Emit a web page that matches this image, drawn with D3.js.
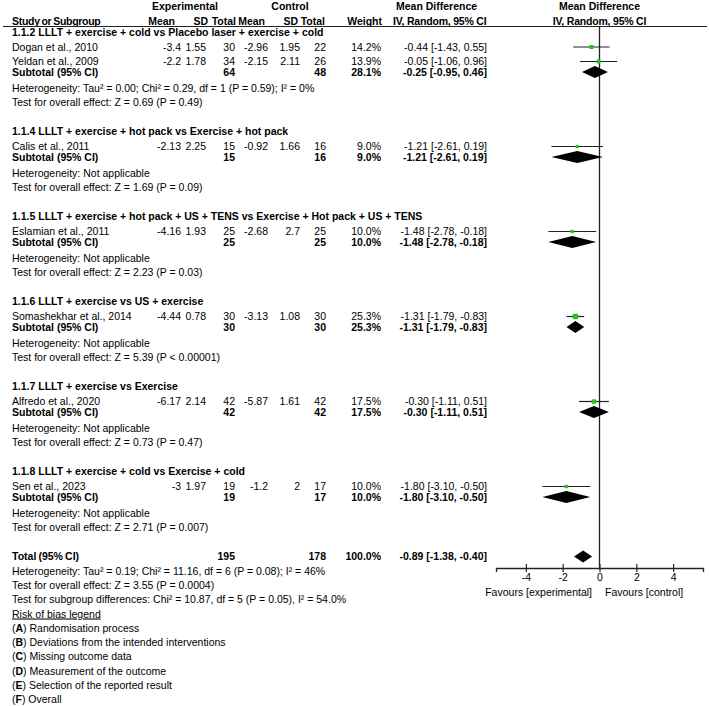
<!DOCTYPE html>
<html lang="en">
<head>
    <meta charset="UTF-8">
    <title>Forest plot - LLLT</title>
    <script src="https://cdn.jsdelivr.net/npm/d3@7/dist/d3.min.js"></script>
    <style>
        body { margin: 0; background: #fff; }
        svg { display: block; }
        text { font-family: "Liberation Sans", Arial, sans-serif; font-size: 10.5px; fill: #000; }
        .b { font-weight: bold; }
    </style>
</head>
<body>
<script>
    // chart size
    const width = 709;
    const height = 706;

    // subgroups
    const subgroups = [
        'LLLT + exercise + cold vs Placebo laser + exercise + cold',
        'LLLT + exercise + hot pack vs Exercise + hot pack',
        'LLLT + exercise + hot pack + US + TENS vs Exercise + Hot pack + US + TENS',
        'LLLT + exercise vs US + exercise',
        'LLLT + exercise vs Exercise',
        'LLLT + exercise + cold vs Exercise + cold'
    ];
    const subgroupIds = ['1.1.2', '1.1.4', '1.1.5', '1.1.6', '1.1.7', '1.1.8'];

    // studies
    const studies = ['Dogan et al., 2010', 'Yeldan et al., 2009', 'Calis et al., 2011', 'Eslamian  et al.,  2011',
        'Somashekhar et al., 2014', 'Alfredo et al., 2020', 'Sen et al., 2023'];
    const studyGroup = [0, 0, 1, 2, 3, 4, 5];
    const expMean = [-3.4, -2.2, -2.13, -4.16, -4.44, -6.17, -3];
    const expSD = [1.55, 1.78, 2.25, 1.93, 0.78, 2.14, 1.97];
    const expN = [30, 34, 15, 25, 30, 42, 19];
    const ctlMean = [-2.96, -2.15, -0.92, -2.68, -3.13, -5.87, -1.2];
    const ctlSD = [1.95, 2.11, 1.66, 2.7, 1.08, 1.61, 2];
    const ctlN = [22, 26, 16, 25, 30, 42, 17];
    const weight = [14.2, 13.9, 9.0, 10.0, 25.3, 17.5, 10.0];
    const md = [-0.44, -0.05, -1.21, -1.48, -1.31, -0.30, -1.80];
    const mdLo = [-1.43, -1.06, -2.61, -2.78, -1.79, -1.11, -3.10];
    const mdHi = [0.55, 0.96, 0.19, -0.18, -0.83, 0.51, -0.50];

    // subtotals
    const subExpN = [64, 15, 25, 30, 42, 19];
    const subCtlN = [48, 16, 25, 30, 42, 17];
    const subWeight = [28.1, 9.0, 10.0, 25.3, 17.5, 10.0];
    const subMd = [-0.25, -1.21, -1.48, -1.31, -0.30, -1.80];
    const subLo = [-0.95, -2.61, -2.78, -1.79, -1.11, -3.10];
    const subHi = [0.46, 0.19, -0.18, -0.83, 0.51, -0.50];
    const subHet = [
        'Heterogeneity: Tau² = 0.00; Chi² = 0.29, df = 1 (P = 0.59); I² = 0%',
        'Heterogeneity: Not applicable',
        'Heterogeneity: Not applicable',
        'Heterogeneity: Not applicable',
        'Heterogeneity: Not applicable',
        'Heterogeneity: Not applicable'
    ];
    const subTest = [
        'Test for overall effect: Z = 0.69 (P = 0.49)',
        'Test for overall effect: Z = 1.69 (P = 0.09)',
        'Test for overall effect: Z = 2.23 (P = 0.03)',
        'Test for overall effect: Z = 5.39 (P < 0.00001)',
        'Test for overall effect: Z = 0.73 (P = 0.47)',
        'Test for overall effect: Z = 2.71 (P = 0.007)'
    ];

    // overall
    const total = { expN: 195, ctlN: 178, weight: 100.0, md: -0.89, lo: -1.38, hi: -0.40 };
    const totalLines = [
        'Heterogeneity: Tau² = 0.19; Chi² = 11.16, df = 6 (P = 0.08); I² = 46%',
        'Test for overall effect: Z = 3.55 (P = 0.0004)',
        'Test for subgroup differences: Chi² = 10.87, df = 5 (P = 0.05), I² = 54.0%'
    ];
    const biasLetters = ['A', 'B', 'C', 'D', 'E', 'F'];
    const biasLabels = ['Randomisation  process', 'Deviations  from  the  intended  interventions', 'Missing  outcome  data',
        'Measurement  of  the  outcome', 'Selection  of  the  reported  result', 'Overall'];

    // axis
    const tickVals = [-4, -2, 0, 2, 4];
    const x = d3.scaleLinear().domain([-5.62, 5.62]).range([496, 703]);

    // column anchors (right aligned)
    const col = { name: 12, eMean: 181, eSD: 206, eN: 235, cMean: 268, cSD: 300, cN: 326, w: 381, md: 487 };

    let svg = d3.select('body')
        .append('svg')
        .attr('width', width)
        .attr('height', height);

    svg.append('rect').attr('width', width).attr('height', height).attr('fill', '#fff');

    // text helper, y is the text centre
    function txt (xx, yy, s, anchor, bold) {
        return svg.append('text')
            .attr('x', xx)
            .attr('y', yy + 3.8)
            .attr('text-anchor', anchor || 'start')
            .attr('class', bold ? 'b' : null)
            .text(s);
    }

    // header
    txt(185, 6, 'Experimental', 'middle', true);
    txt(290, 6, 'Control', 'middle', true);
    txt(396, 6, 'Mean Difference', 'start', true);
    txt(x(0), 6, 'Mean Difference', 'middle', true);
    txt(col.name, 21, 'Study or Subgroup', 'start', true).attr('letter-spacing', -0.3).attr('word-spacing', -0.8);
    txt(175, 21, 'Mean', 'end', true);
    txt(208, 21, 'SD', 'end', true);
    txt(236, 21, 'Total', 'end', true);
    txt(265, 21, 'Mean', 'end', true);
    txt(298, 21, 'SD', 'end', true);
    txt(325, 21, 'Total', 'end', true);
    txt(382, 21, 'Weight', 'end', true);
    txt(393, 21, 'IV, Random, 95% CI', 'start', true).attr('letter-spacing', -0.2);
    txt(x(0), 21, 'IV, Random, 95% CI', 'middle', true).attr('letter-spacing', -0.2);

    svg.append('line')
        .attr('x1', 3).attr('x2', 707)
        .attr('y1', 26.5).attr('y2', 26.5)
        .attr('stroke', '#222').attr('stroke-width', 1.2);

    // layout rows
    let y = 32;
    let studyY = [];
    let subY = [];
    subgroups.forEach((g, i) => {
        txt(col.name, y, subgroupIds[i] + ' ' + g, 'start', true);
        let yy = y + 15;
        studies.forEach((s, j) => {
            if (studyGroup[j] !== i) return;
            studyY[j] = yy;
            yy += 14.5;
        });
        yy -= 4;
        subY[i] = yy;
        txt(col.name, yy + 16, subHet[i]);
        txt(col.name, yy + 30, subTest[i]);
        y = yy + 59.5;
    });
    const totalY = y;

    // study rows
    const fmt2 = d3.format('.2f');
    function ciText (m, l, h) {
        return [m, l, h].map(v => fmt2(v).replace('−', '-')).reduce((a, b, k) => k === 1 ? a + ' [' + b : a + ', ' + b) + ']';
    }
    studies.forEach((s, j) => {
        const yy = studyY[j];
        txt(col.name, yy, s);
        txt(col.eMean, yy, String(expMean[j]), 'end');
        txt(col.eSD, yy, String(expSD[j]), 'end');
        txt(col.eN, yy, String(expN[j]), 'end');
        txt(col.cMean, yy, String(ctlMean[j]), 'end');
        txt(col.cSD, yy, String(ctlSD[j]), 'end');
        txt(col.cN, yy, String(ctlN[j]), 'end');
        txt(col.w, yy, weight[j].toFixed(1) + '%', 'end');
        txt(col.md, yy, ciText(md[j], mdLo[j], mdHi[j]), 'end');
    });

    // subtotal rows
    subgroups.forEach((g, i) => {
        const yy = subY[i];
        txt(col.name, yy, 'Subtotal (95% CI)', 'start', true);
        txt(col.eN, yy, String(subExpN[i]), 'end', true);
        txt(col.cN, yy, String(subCtlN[i]), 'end', true);
        txt(col.w, yy, subWeight[i].toFixed(1) + '%', 'end', true);
        txt(col.md, yy, ciText(subMd[i], subLo[i], subHi[i]), 'end', true);
    });

    // total rows
    txt(col.name, totalY, 'Total (95% CI)', 'start', true).attr('word-spacing', -0.8);
    txt(col.eN, totalY, String(total.expN), 'end', true);
    txt(col.cN, totalY, String(total.ctlN), 'end', true);
    txt(col.w, totalY, total.weight.toFixed(1) + '%', 'end', true);
    txt(col.md, totalY, ciText(total.md, total.lo, total.hi), 'end', true);
    totalLines.forEach((s, k) => txt(col.name, totalY + 14.3 * (k + 1), s));
    txt(col.name, totalY + 14.3 * 4, 'Risk  of  bias  legend').attr('text-decoration', 'underline');
    biasLetters.forEach((l, k) => {
        const t = txt(col.name, totalY + 14.3 * (5 + k), '');
        t.append('tspan').text('(');
        t.append('tspan').attr('font-weight', 'bold').text(l);
        t.append('tspan').text(')  ' + biasLabels[k]);
    });

    // plot
    const axisY = 568;
    const plot = svg.append('g');

    plot.append('line')
        .attr('x1', x(0)).attr('x2', x(0))
        .attr('y1', 26.5).attr('y2', axisY)
        .attr('stroke', '#222').attr('stroke-width', 1.3);

    // study CIs and squares
    plot.selectAll('line.ci')
        .data(studies)
        .enter()
        .append('line')
        .attr('class', 'ci')
        .attr('x1', (d, j) => x(mdLo[j]))
        .attr('x2', (d, j) => x(mdHi[j]))
        .attr('y1', (d, j) => studyY[j])
        .attr('y2', (d, j) => studyY[j])
        .attr('stroke', '#222').attr('stroke-width', 1.2);

    plot.selectAll('rect.sq')
        .data(studies)
        .enter()
        .append('rect')
        .attr('class', 'sq')
        .attr('x', (d, j) => x(md[j]) - Math.sqrt(weight[j]) * 0.53)
        .attr('y', (d, j) => studyY[j] - Math.sqrt(weight[j]) * 0.53)
        .attr('width', (d, j) => Math.sqrt(weight[j]) * 1.06)
        .attr('height', (d, j) => Math.sqrt(weight[j]) * 1.06)
        .attr('fill', '#1ec81e');

    // diamonds
    function diamond (m, l, h, yy) {
        return `M${x(l)},${yy}L${x(m)},${yy - 6}L${x(h)},${yy}L${x(m)},${yy + 6}Z`;
    }
    plot.selectAll('path.dia')
        .data(subgroups)
        .enter()
        .append('path')
        .attr('class', 'dia')
        .attr('d', (d, i) => diamond(subMd[i], subLo[i], subHi[i], subY[i]))
        .attr('fill', '#000');
    plot.append('path')
        .attr('d', diamond(total.md, total.lo, total.hi, totalY))
        .attr('fill', '#000');

    // axis
    const axis = d3.axisBottom(x)
        .tickValues(tickVals)
        .tickFormat(d => String(d))
        .tickSizeOuter(0)
        .tickSize(4)
        .tickPadding(2);
    const ag = plot.append('g')
        .attr('transform', `translate(0,${axisY})`)
        .call(axis);
    ag.select('.domain').attr('stroke', '#222').attr('stroke-width', 1.3);
    ag.selectAll('.tick line').attr('y1', -4).attr('y2', 4).attr('stroke', '#222').attr('stroke-width', 1.2);
    ag.selectAll('.tick text')
        .attr('font-family', '"Liberation Sans", Arial, sans-serif')
        .attr('font-size', '10.5px')
        .attr('fill', '#000');

    txt(592, 592, 'Favours  [experimental]', 'end');
    txt(605, 592, 'Favours  [control]', 'start');
</script>
</body>
</html>
